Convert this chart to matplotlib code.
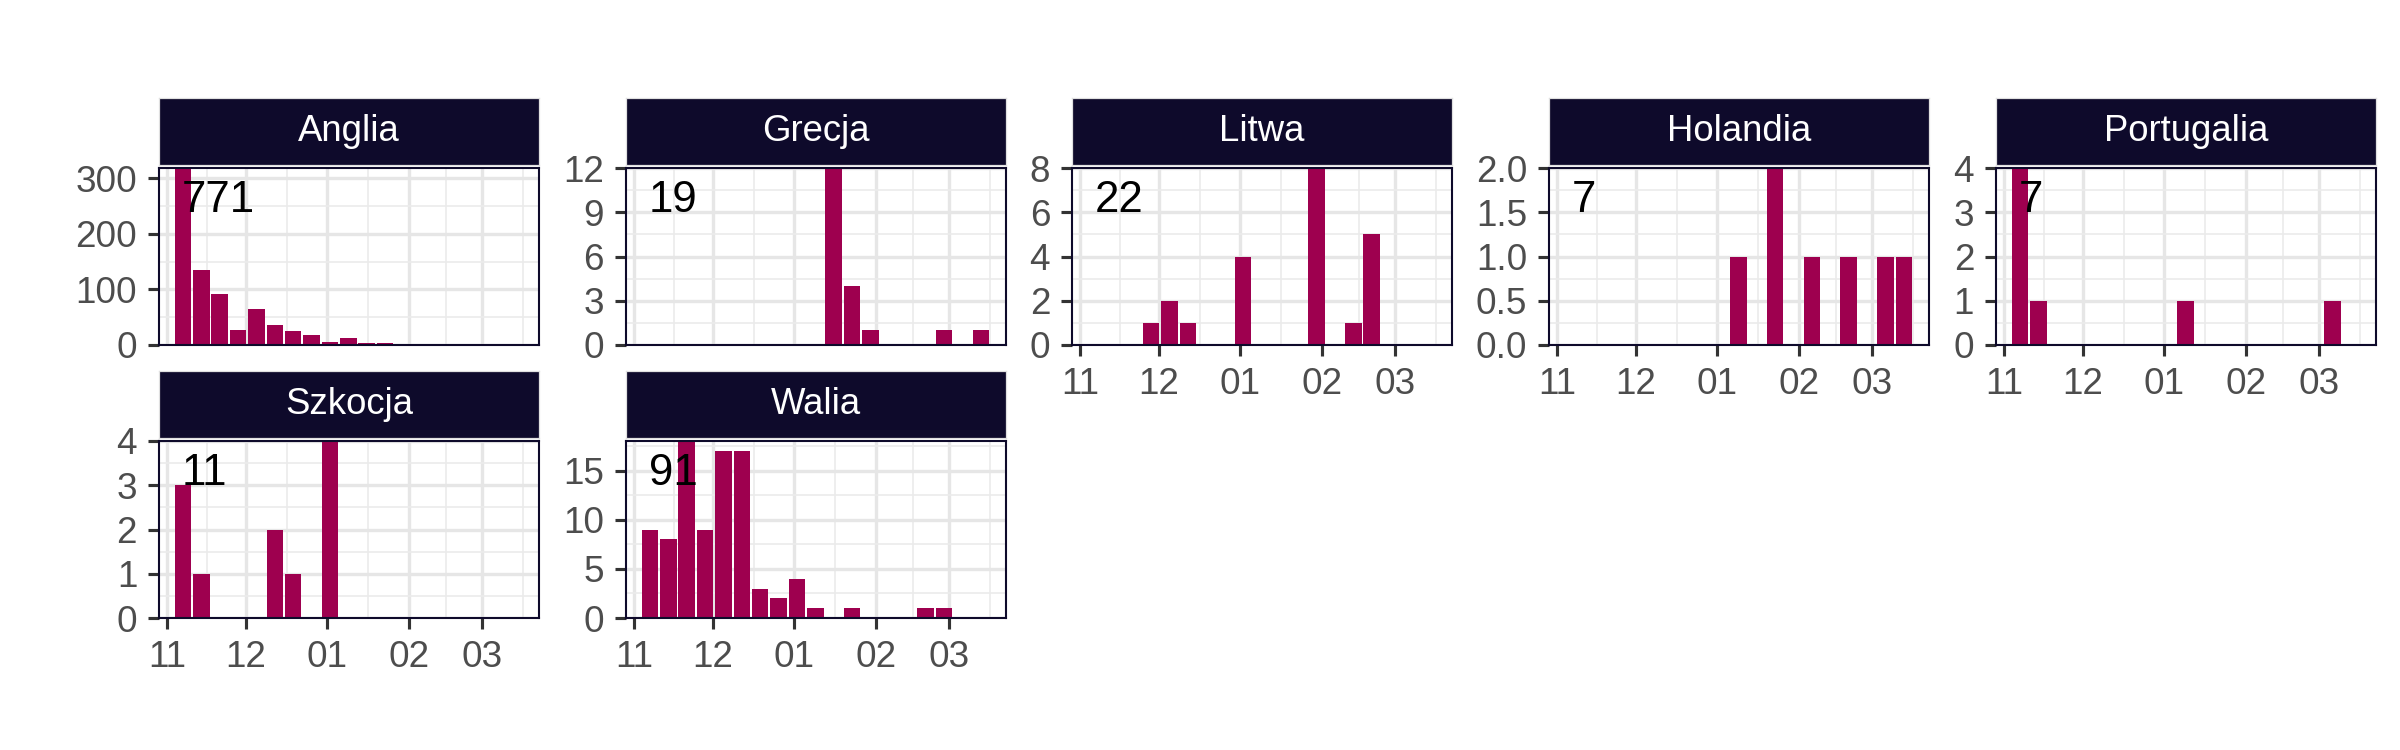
import numpy as np
import matplotlib.pyplot as plt
import matplotlib.dates as mdates
from matplotlib.ticker import MultipleLocator, FormatStrFormatter, FixedLocator

plt.rcParams['font.family'] = ['Liberation Sans', 'DejaVu Sans']

# --- weekly case counts per country (week centre dates) ---
weeks = ["2020-11-07", "2020-11-14", "2020-11-21", "2020-11-28", "2020-12-05",
         "2020-12-12", "2020-12-19", "2020-12-26", "2021-01-02", "2021-01-09",
         "2021-01-16", "2021-01-23", "2021-01-30", "2021-02-06", "2021-02-13",
         "2021-02-20", "2021-02-27", "2021-03-06", "2021-03-13"]

anglia     = [346, 135, 92, 27, 65, 36, 26, 18, 5, 13, 4, 4, 0, 0, 0, 0, 0, 0, 0]
grecja     = [0, 0, 0, 0, 0, 0, 0, 0, 0, 0, 12, 4, 1, 0, 0, 0, 1, 0, 1]
litwa      = [0, 0, 0, 1, 2, 1, 0, 0, 4, 0, 0, 0, 8, 0, 1, 5, 0, 0, 0]
holandia   = [0, 0, 0, 0, 0, 0, 0, 0, 0, 1, 0, 2, 0, 1, 0, 1, 0, 1, 1]
portugalia = [4, 1, 0, 0, 0, 0, 0, 0, 0, 1, 0, 0, 0, 0, 0, 0, 0, 1, 0]
szkocja    = [3, 1, 0, 0, 0, 2, 1, 0, 4, 0, 0, 0, 0, 0, 0, 0, 0, 0, 0]
walia      = [9, 8, 18, 9, 17, 17, 3, 2, 4, 1, 0, 1, 0, 0, 0, 1, 1, 0, 0]

countries = ["Anglia", "Grecja", "Litwa", "Holandia", "Portugalia", "Szkocja", "Walia"]
series = [anglia, grecja, litwa, holandia, portugalia, szkocja, walia]
totals = [771, 19, 22, 7, 7, 11, 91]

# axis settings per panel
y_tops = [318, 12, 8, 2, 4, 4, 18]
y_steps = [100, 3, 2, 0.5, 1, 1, 5]
month_starts = ["2020-11-01", "2020-12-01", "2021-01-01", "2021-02-01", "2021-03-01"]

bar_color = "#9E004F"
strip_color = "#0E0A2B"

# --- layout in pixels (figure is 2400 x 750) ---
W, H = 2400, 750
col_left = [159, 626, 1072, 1549, 1996]
panel_w = 380
row_top = [168, 441]
panel_h = 177
strip_h = 67
strip_gap = 3

x_dates = mdates.date2num(np.array(weeks, dtype="datetime64[D]"))
m_dates = mdates.date2num(np.array(month_starts, dtype="datetime64[D]"))
apr = mdates.date2num(np.datetime64("2021-04-01"))
edges = np.append(m_dates, apr)
minor_x = (edges[:-1] + edges[1:]) / 2
x_lo = m_dates[0] - 3.1
x_hi = m_dates[-1] + 21.6

fig = plt.figure(figsize=(16, 5), dpi=150)

for i, (name, vals) in enumerate(zip(countries, series)):
    r, c = divmod(i, 5)
    left = col_left[c] / W
    bottom = 1 - (row_top[r] + panel_h) / H
    ax = fig.add_axes([left, bottom, panel_w / W, panel_h / H])

    ax.bar(x_dates, vals, width=6.3, color=bar_color, zorder=3)
    ax.set_xlim(x_lo, x_hi)
    ax.set_ylim(0, y_tops[i])

    ax.xaxis.set_major_locator(FixedLocator(m_dates))
    ax.xaxis.set_minor_locator(FixedLocator(minor_x))
    ax.xaxis.set_major_formatter(mdates.DateFormatter("%m"))
    ax.yaxis.set_major_locator(MultipleLocator(y_steps[i]))
    ax.yaxis.set_minor_locator(MultipleLocator(y_steps[i] / 2))
    if y_steps[i] < 1:
        ax.yaxis.set_major_formatter(FormatStrFormatter("%.1f"))

    ax.grid(which="major", color="#E6E6E6", linewidth=1.6, zorder=0)
    ax.grid(which="minor", color="#EBEBEB", linewidth=0.8, zorder=0)
    ax.set_axisbelow(True)

    ax.tick_params(which="major", length=5.5, width=1.5, color="#333333",
                   labelcolor="#4D4D4D", labelsize=17.7, pad=5)
    ax.tick_params(which="minor", length=0)

    # x labels only on the lowest panel of each column
    has_below = i + 5 < len(countries)
    if has_below:
        ax.tick_params(axis="x", which="major", length=0, labelbottom=False)

    for sp in ax.spines.values():
        sp.set_color(strip_color)
        sp.set_linewidth(1.0)
        sp.set_zorder(4)

    ax.text(x_dates[0] - 0.5, 0.815, str(totals[i]), transform=ax.get_xaxis_transform(),
            ha="left", va="center", fontsize=21, color="black", zorder=5)

    # facet strip
    s_bottom = 1 - (row_top[r] - strip_gap) / H
    sax = fig.add_axes([left, s_bottom, panel_w / W, strip_h / H])
    sax.set_facecolor(strip_color)
    sax.set_xticks([])
    sax.set_yticks([])
    for sp in sax.spines.values():
        sp.set_color("#E0E0E0")
        sp.set_linewidth(0.6)
    sax.text(0.5, 0.5, name, ha="center", va="center", color="white",
             fontsize=17.5, transform=sax.transAxes)

fig.savefig("out.png", dpi=150, facecolor="white")
